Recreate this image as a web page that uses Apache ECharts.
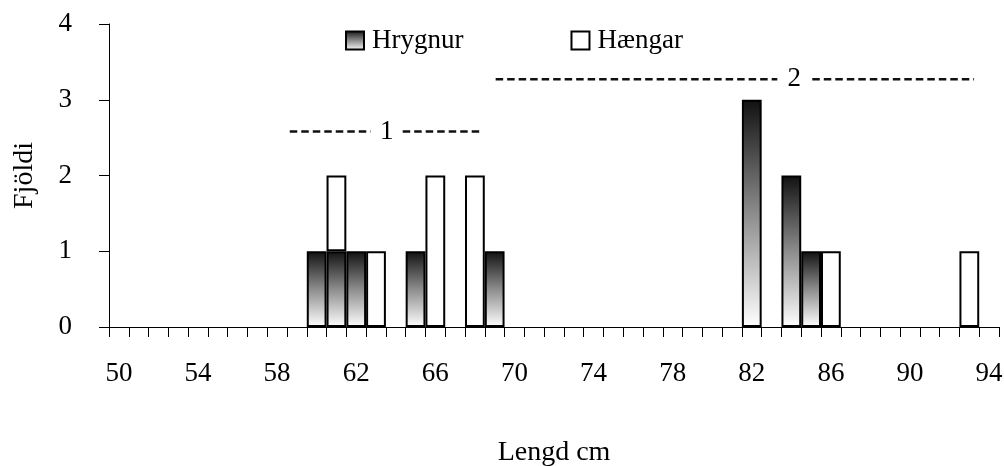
<!DOCTYPE html>
<html>
<head>
<meta charset="utf-8">
<script src="https://cdn.jsdelivr.net/npm/echarts@6/dist/echarts.min.js"></script>
<style>
  html, body { margin: 0; padding: 0; background: #fff; }
  #chart { width: 1004px; height: 466px; }
</style>
</head>
<body>
<div id="chart"></div>
<script>
// Length classes (cm), one column each
const lengths = [];
for (let l = 50; l <= 94; l++) lengths.push(String(l));

// Counts per length class
const hrygnurCounts = {60: 1, 61: 1, 62: 1, 65: 1, 69: 1, 82: 3, 84: 2, 85: 1};
const haengarCounts = {61: 1, 63: 1, 66: 2, 68: 2, 86: 1, 93: 1};

// Group markers drawn above the columns: dashed pieces [from, to, level] and the group number
const groupOneDashes = [[58.64, 62.73, 2.58], [64.35, 68.39, 2.58]];
const groupTwoDashes = [[69.05, 83.29, 3.27], [85.06, 93.24, 3.27]];
const groupLabels = [
  { name: '1', at: [63.54, 2.58] },
  { name: '2', at: [84.15, 3.27] }
];

const yTicks = { min: 0, max: 4, interval: 1 };

const FONT = '"Liberation Serif", "Times New Roman", serif';

// Empty classes get no outline so nothing shows on the axis
function toSeries(counts) {
  return lengths.map(l => (counts[l]
    ? counts[l]
    : { value: null, itemStyle: { borderWidth: 0, opacity: 0 } }));
}

const fadeFill = {
  type: 'linear', x: 0, y: 0, x2: 0, y2: 1,
  colorStops: [
    { offset: 0, color: '#111111' },
    { offset: 0.5, color: '#8c8c8c' },
    { offset: 1, color: '#ffffff' }
  ]
};

const dashStyle = { color: '#111', width: 2.5, type: [7.5, 4] };

function dashSeries(pieces) {
  const pts = [];
  pieces.forEach((p, i) => {
    if (i > 0) pts.push(['-', '-']);
    pts.push([p[0], p[2]], [p[1], p[2]]);
  });
  return {
    type: 'line',
    xAxisIndex: 1,
    yAxisIndex: 0,
    data: pts,
    connectNulls: false,
    symbol: 'none',
    lineStyle: dashStyle,
    silent: true,
    z: 3
  };
}

const chart = echarts.init(document.getElementById('chart'), null, { renderer: 'canvas' });

chart.setOption({
  animation: false,
  backgroundColor: '#fff',
  textStyle: { fontFamily: FONT },
  legend: {
    data: ['Hrygnur', 'Hængar'],
    left: 340,
    top: 22,
    icon: 'rect',
    itemWidth: 18,
    itemHeight: 18,
    itemGap: 107,
    textStyle: { fontFamily: FONT, fontSize: 27, color: '#000', padding: [0, 0, 0, 3] }
  },
  grid: { left: 109, right: 5, top: 24, bottom: 139, containLabel: false, outerBoundsMode: 'none' },
  xAxis: [
    {
      type: 'category',
      data: lengths,
      boundaryGap: true,
      name: 'Lengd cm',
      nameLocation: 'middle',
      nameGap: 112,
      nameTextStyle: { fontFamily: FONT, fontSize: 28, color: '#000' },
      axisLine: { lineStyle: { color: '#000', width: 1 } },
      axisTick: { show: true, interval: 0, length: 10, lineStyle: { color: '#000' } },
      axisLabel: { interval: 3, margin: 33, fontFamily: FONT, fontSize: 27, color: '#000' },
      splitLine: { show: false }
    },
    {
      type: 'value',
      min: 49.5,
      max: 94.5,
      show: false,
      gridIndex: 0
    }
  ],
  yAxis: {
    type: 'value',
    min: yTicks.min,
    max: yTicks.max,
    interval: yTicks.interval,
    name: 'Fjöldi',
    nameLocation: 'middle',
    nameGap: 70,
    nameRotate: 90,
    nameTextStyle: { fontFamily: FONT, fontSize: 28, color: '#000' },
    axisLine: { show: true, lineStyle: { color: '#000', width: 1 } },
    axisTick: { show: true, inside: false, length: 10, lineStyle: { color: '#000' } },
    axisLabel: { margin: 37, fontFamily: FONT, fontSize: 27, color: '#000' },
    splitLine: { show: false }
  },
  series: [
    {
      name: 'Hrygnur',
      type: 'bar',
      stack: 'fjoldi',
      data: toSeries(hrygnurCounts),
      barCategoryGap: 0,
      itemStyle: { color: fadeFill, borderColor: '#000', borderWidth: 2 },
      z: 2
    },
    {
      name: 'Hængar',
      type: 'bar',
      stack: 'fjoldi',
      data: toSeries(haengarCounts),
      barCategoryGap: 0,
      itemStyle: { color: '#fff', borderColor: '#000', borderWidth: 2 },
      z: 2
    },
    dashSeries(groupOneDashes),
    dashSeries(groupTwoDashes),
    {
      type: 'scatter',
      xAxisIndex: 1,
      yAxisIndex: 0,
      symbolSize: 0,
      silent: true,
      z: 5,
      itemStyle: { opacity: 1 },
      data: groupLabels.map(g => ({ name: g.name, value: g.at })),
      label: {
        show: true,
        position: 'inside',
        formatter: p => p.name,
        fontFamily: FONT,
        fontSize: 27,
        color: '#000',
        opacity: 1
      }
    }
  ]
});
</script>
</body>
</html>
